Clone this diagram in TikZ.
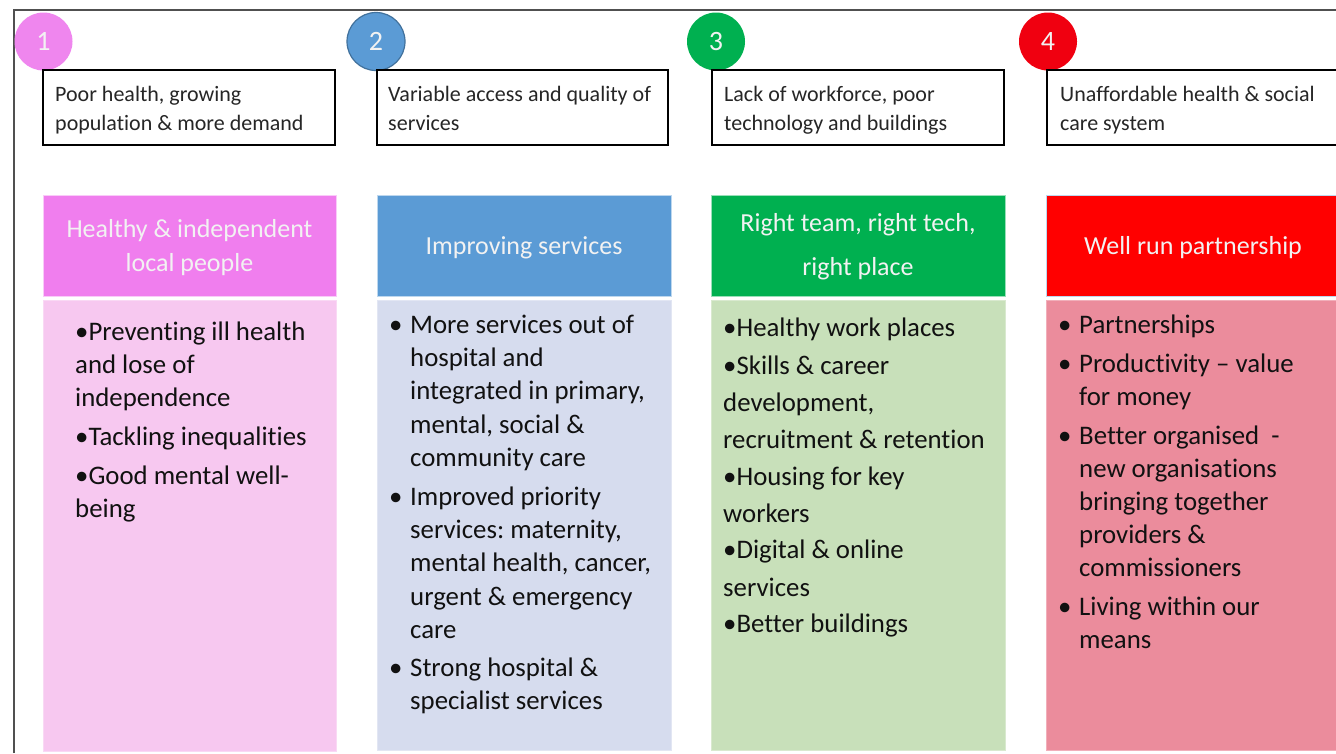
\documentclass[tikz,border=0pt]{standalone}
\usepackage{fontspec}
\setmainfont{Carlito}[Ligatures=NoCommon]
\frenchspacing
\definecolor{cpink}{HTML}{EF86EE}
\definecolor{tpink}{HTML}{F07EEE}
\definecolor{bpink}{HTML}{F7C8F0}
\definecolor{cblue}{HTML}{5B9BD5}
\definecolor{cblueline}{HTML}{41719C}
\definecolor{tblue}{HTML}{5B9BD5}
\definecolor{bblue}{HTML}{D6DCEE}
\definecolor{cgreen}{HTML}{00B050}
\definecolor{tgreen}{HTML}{00B050}
\definecolor{bgreen}{HTML}{C8E0BA}
\definecolor{cred}{HTML}{F00010}
\definecolor{tred}{HTML}{FF0000}
\definecolor{bred}{HTML}{EB8C9C}
\definecolor{framec}{HTML}{505050}
\definecolor{txt}{HTML}{111111}
\begin{document}
\begin{tikzpicture}[x=1pt,y=-1pt,
  numcirc/.style={circle,minimum size=58pt,inner sep=0pt,text=white!95!black,font=\fontsize{28}{32}\selectfont},
  hbox/.style={draw=black,line width=2pt,fill=white,inner sep=0pt},
  htext/.style={anchor=base west,inner sep=0pt,text=black!85,font=\fontsize{22}{26}\selectfont},
  tbox/.style={inner sep=0pt,minimum height=101pt},
  ttext/.style={anchor=base,inner sep=0pt,text=white!95!black,font=\fontsize{26}{30}\selectfont},
  bbox/.style={inner sep=0pt,minimum height=451pt},
  btext/.style={anchor=base west,inner sep=0pt,text=txt,font=\fontsize{26.8}{33}\selectfont}
]
\useasboundingbox (0,0) rectangle (1336,753);
\fill[white] (0,0) rectangle (1336,753);
\draw[framec,line width=1.5pt] (14,753) -- (14,10) -- (1336,10);

% number circles
\node[numcirc,fill=cpink] (n1) at (43.5,41.5) {1};
\node[numcirc,fill=cblue,draw=cblueline,line width=1.2pt] (n2) at (376,41.5) {2};
\node[numcirc,fill=cgreen] (n3) at (716,41.5) {3};
\node[numcirc,fill=cred] (n4) at (1048,41.5) {4};

% header boxes
\node[hbox,minimum width=292pt,minimum height=75pt] (h1) at (189,107.5) {};
\node[hbox,minimum width=291pt,minimum height=75pt] (h2) at (522.5,107.5) {};
\node[hbox,minimum width=292pt,minimum height=75pt] (h3) at (858,107.5) {};
\node[hbox,minimum width=293pt,minimum height=75pt] (h4) at (1193.5,107.5) {};
\node[htext] (h1a) at (55,101) {Poor health, growing};
\node[htext] (h1b) at (55,130) {population \& more demand};
\node[htext] (h2a) at (388,101) {Variable access and quality of};
\node[htext] (h2b) at (388,130) {services};
\node[htext] (h3a) at (724,101) {Lack of workforce, poor};
\node[htext] (h3b) at (724,130) {technology and buildings};
\node[htext] (h4a) at (1060,101) {Unaffordable health \& social};
\node[htext] (h4b) at (1060,130) {care system};

% title boxes
\node[tbox,fill=tpink,draw=tpink!40,minimum width=293pt] (t1) at (189.5,245.5) {};
\node[tbox,fill=tblue,draw=tblue!40,minimum width=294pt] (t2) at (524,245.5) {};
\node[tbox,fill=tgreen,draw=tgreen!40,minimum width=294pt] (t3) at (858,245.5) {};
\node[tbox,fill=tred,draw=cblue!40,minimum width=294pt] (t4) at (1193,245.5) {};
\node[ttext] (t1a) at (189.5,237) {Healthy \& independent};
\node[ttext] (t1b) at (189.5,271) {local people};
\node[ttext] (t2a) at (524,254) {Improving services};
\node[ttext] (t3a) at (858,231) {Right team, right tech,};
\node[ttext] (t3b) at (858,275) {right place};
\node[ttext] (t4a) at (1193,254) {Well run partnership};

% body boxes
\node[bbox,fill=bpink,draw=bpink!70!white,minimum width=293pt] (b1) at (189.5,526) {};
\node[bbox,fill=bblue,draw=bblue!70!white,minimum width=294pt,minimum height=450pt] (b2) at (524,525) {};
\node[bbox,fill=bgreen,draw=bgreen!70!white,minimum width=294pt,minimum height=450pt] (b3) at (858,525) {};
\node[bbox,fill=bred,draw=bred!70!white,minimum width=294pt,minimum height=450pt] (b4) at (1193,525) {};

% column 1
\foreach \y/\t [count=\i] in {340/{•Preventing ill health},373/{and lose of},406/{independence},445/{•Tackling inequalities},484/{•Good mental well-},517/{being}}
  \node[btext] (a\i) at (75,\y) {\t};

% column 2
\foreach \y [count=\i] in {333,505,676}
  \node[btext] (bb\i) at (389,\y) {•};
\foreach \y/\t [count=\i] in {333/{More services out of},366/{hospital and},399/{integrated in primary,},433/{mental, social \&},466/{community care},505/{Improved priority},538/{services: maternity,},571/{mental health, cancer,},605/{urgent \& emergency},638/{care},676/{Strong hospital \&},709/{specialist services}}
  \node[btext] (b\i) at (410,\y) {\t};

% column 3
\foreach \y/\t [count=\i] in {336/{•Healthy work places},374/{•Skills \& career},411/{development,},448/{recruitment \& retention},485/{•Housing for key},522/{workers},558/{•Digital \& online},596/{services},632/{•Better buildings}}
  \node[btext] (c\i) at (723,\y) {\t};

% column 4
\foreach \y [count=\i] in {333,372,444,615}
  \node[btext] (db\i) at (1058,\y) {•};
\foreach \y/\t [count=\i] in {333/{Partnerships},372/{Productivity – value},405/{for money},444/{Better organised\ \ -},477/{new organisations},510/{bringing together},543/{providers \&},576/{commissioners},615/{Living within our},648/{means}}
  \node[btext] (d\i) at (1079,\y) {\t};
\end{tikzpicture}
\end{document}
